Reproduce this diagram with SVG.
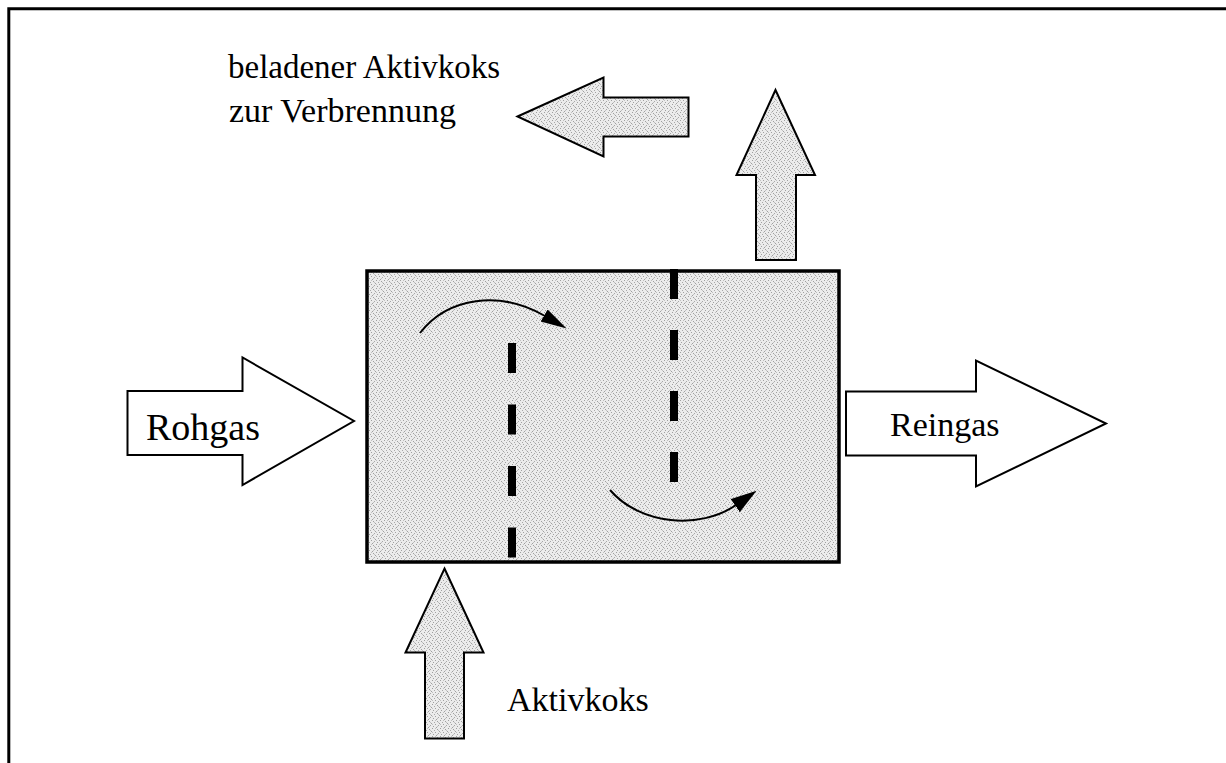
<svg xmlns="http://www.w3.org/2000/svg" width="1226" height="763" viewBox="0 0 1226 763">
  <defs>
    <pattern id="stipple" width="8" height="8" patternUnits="userSpaceOnUse">
      <rect width="8" height="8" fill="#ececec"/>
      <rect x="0" y="0" width="1" height="1" fill="#a0a0a0"/>
      <rect x="5" y="1" width="1" height="1" fill="#a0a0a0"/>
      <rect x="2" y="2" width="1" height="1" fill="#a8a8a8"/>
      <rect x="7" y="3" width="1" height="1" fill="#a0a0a0"/>
      <rect x="3" y="4" width="1" height="1" fill="#a0a0a0"/>
      <rect x="6" y="5" width="1" height="1" fill="#a8a8a8"/>
      <rect x="1" y="6" width="1" height="1" fill="#a0a0a0"/>
      <rect x="4" y="7" width="1" height="1" fill="#a0a0a0"/>
      <rect x="3" y="0" width="1" height="1" fill="#c0c0c0"/>
      <rect x="6" y="2" width="1" height="1" fill="#c0c0c0"/>
      <rect x="0" y="4" width="1" height="1" fill="#c0c0c0"/>
      <rect x="5" y="6" width="1" height="1" fill="#c0c0c0"/>
    </pattern>
    <marker id="head1" markerUnits="userSpaceOnUse" markerWidth="30" markerHeight="20" refX="1" refY="7" orient="auto">
      <path d="M0,0 L26,7 L0,14 Z" fill="#000"/>
    </marker>
    <marker id="head2" markerUnits="userSpaceOnUse" markerWidth="30" markerHeight="20" refX="1" refY="8" orient="auto">
      <path d="M0,0 L26,8 L0,16 Z" fill="#000"/>
    </marker>
  </defs>
  <style>
    .frame { stroke: #000; stroke-width: 3; fill: none; }
    .outline { stroke: #000; stroke-width: 2; stroke-linejoin: miter; }
    .shaded { fill: url(#stipple); }
    .plain { fill: #fff; }
    .dash { stroke: #000; stroke-width: 8; stroke-dasharray: 30 31.5; }
    .flow { stroke: #000; stroke-width: 2; fill: none; }
    .label { font-family: "Liberation Serif", "Times New Roman", serif; font-size: 34px; fill: #000; }
  </style>
  <rect width="1226" height="763" fill="#fff"/>
  <g id="frame">
    <path class="frame" d="M7.3,8.8 H1226 M8.8,8.8 V763"/>
  </g>

  <g id="reactor">
    <rect class="shaded" x="367" y="271" width="472" height="291" stroke="#000" stroke-width="3.5"/>
    <line class="dash" x1="512" y1="343" x2="512" y2="558"/>
    <line class="dash" x1="674" y1="269" x2="674" y2="483" style="stroke-dasharray:30 31"/>
  </g>

  <g id="connectors">
    <path class="flow" d="M420,333 C448,297 500,290 545,316" marker-end="url(#head1)"/>
    <path class="flow" d="M610,490 C640,525 700,530 736,505" marker-end="url(#head2)"/>
  </g>

  <g id="rohgas">
    <polygon class="outline plain" points="127.5,391 242.5,391 242.5,357.5 354,421 242.5,485 242.5,455 127.5,455"/>
    <text class="label" x="146" y="440" style="font-size:38px">Rohgas</text>
  </g>

  <g id="reingas">
    <polygon class="outline plain" points="846,391.5 976,391.5 976,360.5 1106,423.5 976,486.5 976,455.5 846,455.5"/>
    <text class="label" x="890" y="436">Reingas</text>
  </g>

  <g id="aktivkoks">
    <polygon class="outline shaded" points="444.5,568.5 483.5,652.5 464,652.5 464,738.5 425,738.5 425,652.5 405.5,652.5"/>
    <text class="label" x="507" y="711">Aktivkoks</text>
  </g>

  <g id="reingas-up">
    <polygon class="outline shaded" points="775.5,90 815,175 796,175 796,260 756,260 756,175 736.5,175"/>
  </g>

  <g id="beladener">
    <polygon class="outline shaded" points="517.5,116.5 603.5,77.5 603.5,97.5 688.5,97.5 688.5,136.5 603.5,136.5 603.5,156.5"/>
    <text class="label" x="228" y="78" style="font-size:33px">beladener Aktivkoks</text>
    <text class="label" x="229" y="122">zur Verbrennung</text>
  </g>
</svg>
